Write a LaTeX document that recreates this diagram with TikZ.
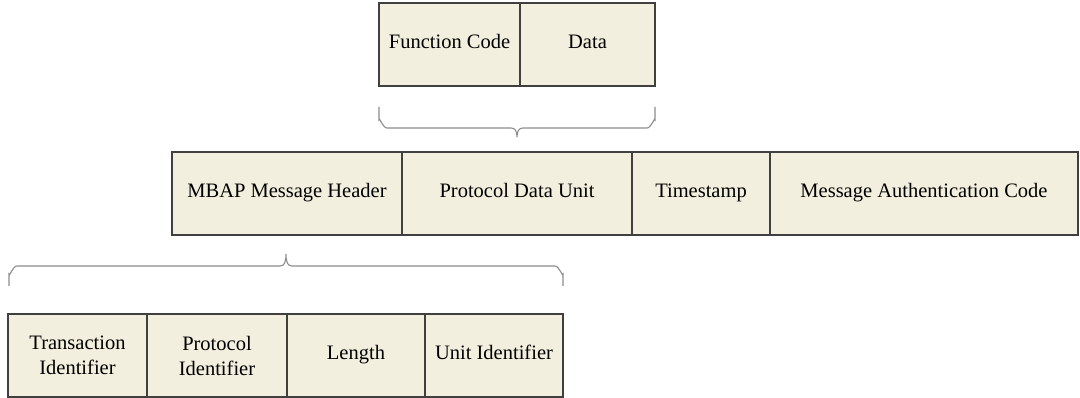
\documentclass[tikz,border=0pt]{standalone}
\usepackage{fontspec}
\setmainfont{Liberation Serif}
\definecolor{cellfill}{HTML}{F3EFDE}
\definecolor{linegray}{HTML}{404040}
\definecolor{bracegray}{HTML}{8C8C8C}
\begin{document}
\begin{tikzpicture}[x=1pt,y=-1pt,
  cell/.style={draw=linegray, fill=cellfill, line width=1.2pt,
    minimum height=83pt, inner sep=0pt, outer sep=0pt, anchor=north west,
    align=center, font=\fontsize{20.5}{25}\selectfont},
  oneline/.style={cell, text height=0.85em, text depth=0pt},
  brace/.style={draw=bracegray, line width=1.1pt}]
\useasboundingbox (0,0) rectangle (1080,398);

% PDU: function code and data
\node[oneline, minimum width=141pt] (fc) at (379,3) {Function Code};
\node[oneline, minimum width=135pt] (data) at (fc.north east) {Data};

% secured frame
\node[oneline, minimum width=230pt] (mbap) at (172,152) {MBAP Message Header};
\node[oneline, minimum width=230pt] (pdu) at (mbap.north east) {Protocol Data Unit};
\node[oneline, minimum width=138pt] (ts) at (pdu.north east) {Timestamp};
\node[oneline, minimum width=308pt] (mac) at (ts.north east) {Message Authentication Code};

% MBAP header fields
\node[cell, minimum width=139pt] (ti) at (8,314) {Transaction\\Identifier};
\node[cell, minimum width=140pt] (pi) at (ti.north east) {Protocol\\Identifier};
\node[oneline, minimum width=138pt] (len) at (pi.north east) {Length};
\node[oneline, minimum width=138pt] (ui) at (len.north east) {Unit Identifier};

% brace under the PDU fields, pointing down
\draw[brace] (379,107) -- (379,120) to[out=90,in=180] (387,128) -- (511,128)
  .. controls (515,128) and (517,131) .. (517,137)
  .. controls (517,131) and (519,128) .. (523,128) -- (647,128)
  to[out=0,in=90] (655,120) -- (655,107);

% brace over the header fields, pointing up
\draw[brace] (9,286) -- (9,274) to[out=-90,in=180] (17,266) -- (280,266)
  .. controls (284,266) and (286,263) .. (286,254)
  .. controls (286,263) and (288,266) .. (292,266) -- (555,266)
  to[out=0,in=-90] (563,274) -- (563,286);
\end{tikzpicture}
\end{document}
